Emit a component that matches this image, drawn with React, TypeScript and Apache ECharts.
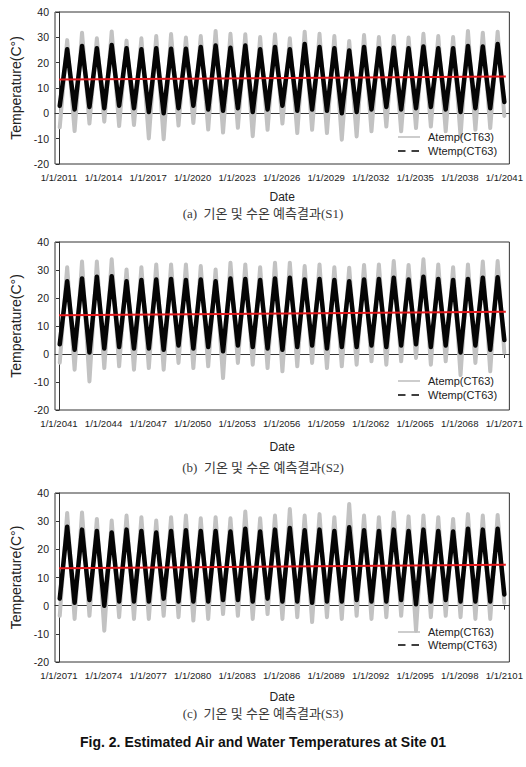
import React, { useEffect, useRef } from 'react';
import * as echarts from 'echarts';

// ---- Data ----
const START_YEARS = [2011, 2041, 2071];
const TICK_YEARS = [0, 3, 6, 9, 12, 15, 18, 21, 24, 27, 30];
const TROUGH_PHASE = 0.05; // fraction of year where winter low occurs
const PEAK_PHASE = 0.55; // fraction of year where summer high occurs

// S1 (2011-2041)
const S1_AIR_HIGH = [28.9, 31.8, 29.6, 32.3, 28.7, 29.6, 30.5, 31.3, 29.9, 30.5, 32.5, 31.4, 31.2, 30.1, 31.2, 29.6, 32.2, 31.4, 30.5, 28.6, 30.9, 30.1, 30.5, 29.9, 31.4, 30.5, 30.1, 32.5, 31.8, 32.2];
const S1_AIR_LOW = [-5.5, -7.0, -4.0, -3.3, -5.0, -4.6, -9.9, -10.2, -4.8, -3.8, -6.4, -7.6, -5.7, -9.0, -6.5, -4.0, -7.8, -6.5, -7.8, -10.4, -9.1, -7.1, -5.2, -7.1, -5.8, -5.2, -7.1, -9.1, -6.5, -5.8, -1.0];
const S1_WATER_HIGH = [25.3, 26.6, 25.7, 27.0, 25.7, 25.3, 25.7, 25.5, 25.5, 26.2, 26.8, 25.9, 26.8, 25.3, 26.2, 25.3, 27.4, 26.2, 25.7, 24.8, 26.2, 25.7, 25.9, 25.7, 26.4, 25.7, 25.7, 26.6, 26.4, 27.4];
const S1_WATER_LOW = [3.0, 1.5, 2.5, 2.0, 3.0, 2.0, 0.5, 0.0, 2.0, 3.0, 1.5, 1.0, 2.0, 0.5, 1.5, 3.0, 1.0, 1.5, 1.0, 0.0, 0.5, 1.5, 2.5, 1.5, 2.0, 2.5, 1.5, 0.5, 2.0, 2.0, 4.5];
const S1_TREND = [13.4, 14.5];

// S2 (2041-2071)
const S2_AIR_HIGH = [31.0, 33.0, 33.0, 33.8, 30.2, 31.0, 32.0, 32.0, 32.0, 31.4, 30.2, 32.6, 32.0, 31.0, 32.6, 32.6, 31.4, 32.0, 31.0, 30.8, 31.8, 32.0, 33.2, 31.8, 33.8, 32.0, 31.0, 32.0, 33.0, 33.2];
const S2_AIR_LOW = [-3.1, -5.6, -9.8, -5.0, -4.4, -5.6, -5.0, -5.6, -3.2, -5.0, -4.4, -8.6, -3.2, -3.8, -5.0, -6.2, -4.4, -3.2, -5.0, -4.4, -3.8, -2.6, -3.8, -2.6, -1.4, -3.8, -2.6, -7.5, -3.2, -6.2, 0.5];
const S2_WATER_HIGH = [26.0, 27.0, 27.6, 27.8, 26.0, 26.4, 26.6, 26.8, 26.4, 26.6, 26.0, 27.0, 26.8, 26.4, 27.0, 27.2, 26.6, 26.8, 26.4, 26.0, 26.6, 26.8, 27.2, 26.6, 27.6, 26.8, 26.4, 26.8, 27.2, 27.4];
const S2_WATER_LOW = [3.5, 1.5, 0.5, 2.0, 2.5, 2.0, 2.0, 1.5, 3.0, 2.0, 2.5, 1.0, 3.0, 2.5, 2.0, 1.5, 2.5, 3.0, 2.0, 2.5, 2.5, 3.0, 2.5, 3.0, 3.5, 2.5, 3.0, 0.5, 3.0, 1.5, 5.0];
const S2_TREND = [13.8, 15.1];

// S3 (2071-2101)
const S3_AIR_HIGH = [32.9, 33.1, 30.8, 30.2, 32.0, 31.4, 30.2, 31.4, 32.0, 31.0, 31.4, 31.0, 33.4, 31.0, 32.0, 34.3, 32.0, 32.5, 31.4, 36.1, 32.0, 31.4, 33.1, 31.7, 32.0, 31.4, 30.8, 32.5, 32.0, 32.2];
const S3_AIR_LOW = [-3.6, -4.7, -3.6, -8.9, -4.1, -4.7, -4.7, -3.6, -4.1, -5.3, -4.7, -3.0, -3.6, -4.7, -3.0, -4.7, -4.1, -5.8, -4.1, -4.7, -3.6, -4.7, -4.1, -3.6, -8.9, -4.1, -3.6, -4.1, -4.7, -4.7, 1.0];
const S3_WATER_HIGH = [28.0, 27.0, 26.5, 26.0, 27.0, 26.5, 26.0, 26.5, 26.8, 26.5, 26.5, 26.3, 27.3, 26.3, 27.0, 27.6, 26.8, 27.0, 26.5, 27.8, 26.8, 26.5, 27.0, 26.5, 27.0, 26.5, 26.3, 27.3, 27.0, 27.3];
const S3_WATER_LOW = [2.5, 1.0, 2.0, 0.0, 1.5, 1.5, 1.5, 2.5, 1.5, 1.5, 1.5, 2.0, 2.0, 1.5, 2.5, 1.5, 1.5, 1.0, 1.5, 1.5, 2.0, 1.5, 1.5, 2.0, 0.5, 1.5, 2.0, 1.5, 1.5, 1.5, 4.0];
const S3_TREND = [13.3, 14.5];

const TREND_X = [0, 30.1];

const CAPTIONS = ['(a)  기온 및 수온 예측결과(S1)', '(b)  기온 및 수온 예측결과(S2)', '(c)  기온 및 수온 예측결과(S3)'];
const FIG_CAPTION = 'Fig. 2. Estimated Air and Water Temperatures at Site 01';
const AIR_NAME = 'Atemp(CT63)';
const WATER_NAME = 'Wtemp(CT63)';

const PANELS = [
  { air: [S1_AIR_HIGH, S1_AIR_LOW], water: [S1_WATER_HIGH, S1_WATER_LOW], trend: S1_TREND },
  { air: [S2_AIR_HIGH, S2_AIR_LOW], water: [S2_WATER_HIGH, S2_WATER_LOW], trend: S2_TREND },
  { air: [S3_AIR_HIGH, S3_AIR_LOW], water: [S3_WATER_HIGH, S3_WATER_LOW], trend: S3_TREND },
];

// ---- Layout ----
const GRIDS = [
  { left: 55, top: 12, width: 455, height: 152, nameGap: 27, capY: 213, legY: [137, 151] },
  { left: 55, top: 242, width: 455, height: 168, nameGap: 31, capY: 467, legY: [381, 395] },
  { left: 55, top: 493, width: 455, height: 169, nameGap: 29, capY: 713, legY: [632, 645] },
];

const SANS = "'Liberation Sans', Arial, sans-serif";
const SERIF = "'Liberation Serif', 'Noto Sans CJK KR', serif";

function cycle(high: number[], low: number[]) {
  const pts: number[][] = [];
  for (let k = 0; k < high.length; k++) {
    pts.push([k + TROUGH_PHASE, low[k]]);
    pts.push([k + PEAK_PHASE, high[k]]);
  }
  pts.push([high.length, low[high.length]]);
  return pts;
}

export default function App() {
  const ref = useRef<HTMLDivElement>(null);
  useEffect(() => {
    if (!ref.current) return;
    const chart = echarts.init(ref.current, undefined, { renderer: 'svg' });

    const grid: any[] = [];
    const xAxis: any[] = [];
    const yAxis: any[] = [];
    const series: any[] = [];
    const graphic: any[] = [];

    GRIDS.forEach((g, i) => {
      grid.push({
        left: g.left, top: g.top, width: g.width, height: g.height,
        show: true, borderColor: '#333', borderWidth: 1, backgroundColor: 'transparent',
      });
      const start = START_YEARS[i];
      xAxis.push({
        type: 'value', gridIndex: i, min: -0.27, max: 30.34,
        name: 'Date', nameLocation: 'middle', nameGap: g.nameGap,
        nameTextStyle: { fontFamily: SANS, fontSize: 12, color: '#222' },
        axisLine: { show: true, lineStyle: { color: '#333', width: 1 } },
        axisTick: { show: true, inside: false, length: 4, customValues: TICK_YEARS, lineStyle: { color: '#333' } },
        axisLabel: {
          customValues: TICK_YEARS, margin: 8, fontFamily: SANS, fontSize: 9.6, color: '#222',
          formatter: (v: number) => '1/1/' + (start + Math.round(v)),
        },
        splitLine: { show: false },
      });
      yAxis.push({
        type: 'value', gridIndex: i, min: -20, max: 40, interval: 10,
        name: 'Temperature(C°)', nameLocation: 'middle', nameGap: 31, nameRotate: 90,
        nameTextStyle: { fontFamily: SANS, fontSize: 14, color: '#222' },
        axisLine: { show: true, lineStyle: { color: '#333', width: 1 } },
        axisTick: { show: true, inside: false, length: 3, lineStyle: { color: '#333' } },
        axisLabel: { margin: 6, fontFamily: SANS, fontSize: 10.5, color: '#222' },
        splitLine: { show: false },
      });
      const p = PANELS[i];
      series.push({
        name: AIR_NAME, type: 'line', xAxisIndex: i, yAxisIndex: i, symbol: 'none', showSymbol: false,
        data: cycle(p.air[0], p.air[1]), silent: true,
        lineStyle: { color: '#c2c2c2', width: 4, join: 'round', cap: 'round' },
      });
      series.push({
        name: WATER_NAME, type: 'line', xAxisIndex: i, yAxisIndex: i, symbol: 'none', showSymbol: false,
        data: cycle(p.water[0], p.water[1]), silent: true,
        lineStyle: { color: '#050505', width: 4.5, join: 'round', cap: 'round' },
      });
      series.push({
        name: 'trend', type: 'line', xAxisIndex: i, yAxisIndex: i, symbol: 'none', showSymbol: false,
        data: [[TREND_X[0], p.trend[0]], [TREND_X[1], p.trend[1]]], silent: true,
        lineStyle: { color: '#e3191c', width: 2 },
      });

      // legend
      graphic.push({
        type: 'line', shape: { x1: 398, y1: g.legY[0], x2: 420, y2: g.legY[0] },
        style: { stroke: '#bdbdbd', lineWidth: 1.5 }, z: 100,
      });
      graphic.push({
        type: 'text', x: 428, y: g.legY[0],
        style: { text: AIR_NAME, font: `11px ${SANS}`, fill: '#222', verticalAlign: 'middle' }, z: 100,
      });
      graphic.push({
        type: 'line', shape: { x1: 398, y1: g.legY[1], x2: 420, y2: g.legY[1] },
        style: { stroke: '#000', lineWidth: 1.5, lineDash: [7.5, 6] }, z: 100,
      });
      graphic.push({
        type: 'text', x: 428, y: g.legY[1],
        style: { text: WATER_NAME, font: `11px ${SANS}`, fill: '#222', verticalAlign: 'middle' }, z: 100,
      });
      // caption
      graphic.push({
        type: 'text', x: 263, y: g.capY,
        style: { text: CAPTIONS[i], font: `13px ${SERIF}`, fill: '#3a3a3a', align: 'center', verticalAlign: 'middle' },
      });
    });

    graphic.push({
      type: 'text', x: 263, y: 742,
      style: { text: FIG_CAPTION, font: `bold 14px ${SANS}`, fill: '#111', align: 'center', verticalAlign: 'middle' },
    });

    chart.setOption({
      animation: false,
      backgroundColor: '#fff',
      grid, xAxis, yAxis, series, graphic,
    });
    return () => chart.dispose();
  }, []);

  return (
    <div
      ref={ref}
      style={{ position: 'absolute', left: 0, top: 0, width: 526, height: 767, background: '#fff' }}
    />
  );
}
